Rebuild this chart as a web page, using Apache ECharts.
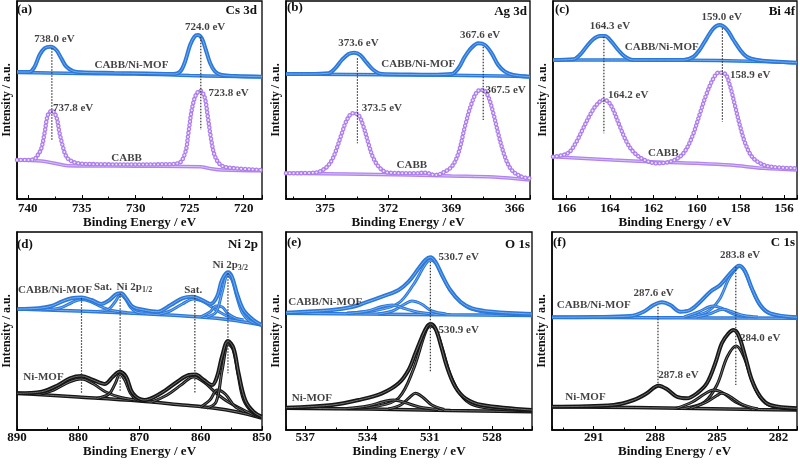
<!DOCTYPE html>
<html><head><meta charset="utf-8">
<script src="https://cdn.jsdelivr.net/npm/echarts@6/dist/echarts.min.js"></script>
<style>html,body{margin:0;padding:0;background:#fff}#c{width:800px;height:467px}</style>
</head><body><div id="c"></div>
<script>
// ---------- (a) Cs 3d ----------
const csHybrid = [[741,127],[739.85,127],[739.38,132],[738.91,144],[738.45,150.7],[737.89,152.3],[737.36,149],[736.9,140.7],[736.43,132.3],[735.81,128],[735.04,126.7],[732,126],[729,125.5],[726.5,125],[725.89,127.3],[725.43,137.3],[724.96,154],[724.56,162.3],[724.25,164],[723.88,160.7],[723.5,149],[723.1,135.7],[722.64,127.3],[722.02,124],[720.78,123],[718.3,122.3]];
const csHybridBg = [[741,126.5],[738,126],[735,125.5],[730,125],[725,123.5],[722,122.8],[718.3,122.3]];
const csCABB = [[741,39],[740,39],[739.5,39.5],[739.3,40.5],[739.07,44],[738.76,50],[738.45,65.7],[738.14,84],[737.77,88.3],[737.36,82.3],[737.05,65.7],[736.74,52],[736.5,44],[736.2,39.5],[735.35,35.7],[733,34.7],[730,34.5],[727.5,34.7],[726.05,35.7],[725.43,45.7],[725.12,65.7],[724.81,89],[724.43,104],[724.03,108.3],[723.63,102.3],[723.32,82.3],[723.0,59],[722.64,42.3],[722.02,33.3],[720.78,30.7],[718.3,29]];
const csCABBBg = [[741,39],[738.76,38],[737.5,35.7],[736.28,33.3],[730,32.8],[724,32.3],[723.25,30.7],[722,29],[718.3,28.3]];
const csGuides = [[[737.77,150.7],[737.77,59]],[[723.97,162.3],[723.97,69]]];
const csNotes = [[737.53,159.7,'738.0 eV'],[723.57,172.3,'724.0 eV'],[730.4,134,'CABB/Ni-MOF'],[735.8,90.7,'737.8 eV'],[721.4,105.7,'723.8 eV'],[730.85,40.7,'CABB']];

// ---------- (b) Ag 3d ----------
const agHybrid = [[376.86,125],[375.8,125],[374.84,125.7],[374.53,130.7],[374.21,139],[373.89,145],[373.61,146.3],[373.34,144],[373.03,136.3],[372.71,129],[372.31,125],[371,124.5],[370,124.3],[369.0,125],[368.68,130.7],[368.37,142.3],[368.05,151.3],[367.73,155.7],[367.42,154],[367.1,145.7],[366.79,134],[366.47,127.3],[366.07,124],[365.28,122.3]];
const agHybridBg = [[376.86,125],[372,124.3],[369,123.8],[366,122.8],[365.28,122.3]];
const agCABB = [[376.86,25.7],[375.5,26.3],[375.0,30.7],[374.68,39],[374.45,50.7],[374.21,65.7],[373.97,79],[373.7,85.7],[373.42,84],[373.18,72.3],[372.95,55.7],[372.71,40.7],[372.39,30.7],[372.0,26.3],[370.73,25.7],[370.26,26.3],[369.79,24],[369.47,25.7],[369.0,32.3],[368.68,45.7],[368.37,72.3],[368.05,95.7],[367.73,108.3],[367.5,109],[367.26,102.3],[367.02,85.7],[366.79,65.7],[366.47,42.3],[366.15,29],[365.68,22.3],[365.28,20.7]];
const agCABBBg = [[376.86,25.7],[374,25],[371,24],[369,23],[367,22],[365.28,19]];
const agGuides = [[[373.47,140.7],[373.47,55.7]],[[367.5,152.3],[367.5,79]]];
const agNotes = [[373.42,155.7,'373.6 eV'],[367.65,164,'367.6 eV'],[370.58,135,'CABB/Ni-MOF'],[372.31,90.7,'373.5 eV'],[366.44,109,'367.5 eV'],[370.89,34,'CABB']];

// ---------- (c) Bi 4f ----------
const biHybrid = [[166.62,139],[165.69,139.7],[165.39,144],[165.08,152.3],[164.77,159.7],[164.46,163],[164.23,163],[163.93,157.3],[163.62,149],[163.31,142.3],[162.93,139],[161.5,139],[160.62,139],[160.16,142.3],[159.86,149.7],[159.55,160.7],[159.24,170.7],[158.96,174],[158.63,169.7],[158.32,159],[158.01,149],[157.71,142.3],[157.24,139],[156.5,137.5],[155.4,136.3]];
const biHybridBg = [[166.62,139],[162,139],[159,138.5],[157,137.5],[155.4,136.3]];
const biCABB = [[166.62,42.3],[166.15,44],[165.85,47.3],[165.54,57.3],[165.23,70.7],[164.92,84],[164.62,94],[164.31,99],[164.08,97.3],[163.85,89],[163.54,72.3],[163.24,57.3],[162.93,47.3],[162.47,39.7],[161.85,35.7],[161.24,37.3],[160.78,42.3],[160.47,50.7],[160.16,65.7],[159.86,85.7],[159.55,105.7],[159.24,120.7],[159.01,126.3],[158.7,125],[158.47,112.3],[158.24,92.3],[158.01,72.3],[157.78,55.7],[157.47,42.3],[157.09,35.7],[156.63,32.3],[155.4,30.7]];
const biCABBBg = [[166.62,42.3],[163.85,39],[161.55,36.7],[160.0,35.7],[158.47,34],[156.94,30.7],[155.4,29]];
const biGuides = [[[164.28,162.3],[164.28,65.7]],[[158.83,170.7],[158.83,77.3]]];
const biNotes = [[164.0,173,'164.3 eV'],[158.86,182.3,'159.0 eV'],[161.62,152.3,'CABB/Ni-MOF'],[163.16,104,'164.2 eV'],[157.55,124,'158.9 eV'],[161.55,45.7,'CABB']];

// ---------- (d) Ni 2p ----------
const niHybrid = [[889.9,121],[886.49,121.7],[884.33,124],[882.71,128.3],[881.09,131.7],[879.47,132.5],[877.85,130],[876.23,126],[874.89,130],[873.81,135.7],[873.0,136.7],[872.19,131.7],[871.11,123.3],[869.22,120],[867.06,118.3],[864.9,125],[863.01,131.7],[861.39,133.3],[859.77,130],[858.42,126],[857.34,133.3],[856.53,150],[855.56,157.7],[854.91,153.3],[854.1,136.7],[853.02,120],[851.4,110],[850.05,105]];
const niHybridBg = [[889.9,121],[880,119],[870,116.5],[860,113],[855,110],[850.05,105]];
const niHybridParts = [
  [[886,120.2],[883,122],[881,127.5],[879.5,130.5],[878,128.5],[876.5,124],[874.5,119.5],[872,117.5]],
  [[877,118.5],[875,121],[874,128],[873.1,135],[872.3,131],[871.5,123],[870.5,118],[869,116.8]],
  [[867,115.5],[865,119],[863,126],[861.2,131],[859.5,128],[857.5,120],[855.5,113.5],[853,110]],
  [[860,113.2],[858.5,118],[857.5,124],[856.5,123],[855.5,116],[854,111]],
  [[859,113],[857.5,118],[856.5,138],[855.6,155],[854.9,150],[854.1,133],[853.2,117],[852,109],[850.05,105]]
];
const niMOF = [[890,36.7],[885.95,38.3],[883.25,45],[881.36,51.7],[879.47,54],[877.58,50],[875.7,46],[874.35,53.3],[873.27,58.3],[872.19,53.3],[871.11,36.7],[869.22,30],[866.52,36.7],[863.82,48.3],[861.93,55],[860.85,55.5],[859.5,50],[858.15,45],[857.34,53.3],[856.53,73.3],[855.56,89],[854.64,81.7],[853.83,56.7],[852.75,30],[851.4,18.3],[850.05,13.3]];
const niMOFBg = [[890,36.7],[880,33],[870,29],[863,25],[858,22],[854,18],[850.05,12]];
const niMOFParts = [
  [[886.5,35.5],[884,40],[881.5,48],[879.5,51],[877.5,46],[875.5,38],[873,32.5],[870,29.5]],
  [[877,31.5],[875,36],[874,46],[873.2,55.5],[872.4,50],[871.5,37],[870.5,30.5],[869,29]],
  [[868,28],[865.5,35],[863,46],[861.2,53],[859.5,48],[857.5,37],[855.5,28],[853,20],[851,14]],
  [[860,23],[858.5,30],[857.3,40],[856,36],[854.5,24],[853,18.5]],
  [[859,22],[857.5,28],[856.5,60],[855.5,86],[854.7,80],[853.9,55],[853,30],[851.5,17],[850.05,12.5]]
];
const niGuides = [[[879.47,131.7],[879.47,36.7]],[[873.16,136.7],[873.16,38.3]],[[860.96,135],[860.96,36.7]],[[855.56,156.7],[855.56,56.7]]];
const niNotes = [[883.8,140,'CABB/Ni-MOF'],[875.97,143.3,'Sat.'],[870.84,143.3,'Ni 2p{s|1/2}'],[861.23,140,'Sat.'],[855.18,165,'Ni 2p{s|3/2}'],[885.68,53.3,'Ni-MOF']];

// ---------- (e) O 1s ----------
const oHybrid = [[537.93,117.3],[535.71,120],[534.75,123],[534.11,127.3],[533.3,133.3],[532.5,140],[532.02,148.3],[531.53,161.7],[531.21,170],[530.97,172.7],[530.73,168.3],[530.41,155],[530.01,140],[529.52,128.3],[528.96,121.7],[527.99,118.3],[526.07,116]];
const oHybridBg = [[537.93,116.7],[534,116],[530,115.2],[526.07,114.5]];
const oHybridParts = [
  [[535,117],[533.5,120],[532.5,127],[531.8,145],[531.2,166],[530.97,170],[530.7,166.5],[530.4,154],[530.0,139],[529.5,127.5],[529,121],[528,117],[526.07,115]],
  [[533.5,116],[532.8,119],[532.2,126],[531.86,129],[531.4,126],[530.9,119],[530.2,116]],
  [[535,116.5],[534,119],[533.3,123.5],[532.8,125],[532.3,122],[531.6,118],[530.8,116]]
];
const oMOF = [[537.93,22.3],[535.71,25],[534.43,30],[533.3,36.7],[532.5,46.7],[532.02,60],[531.69,76.7],[531.37,93.3],[531.13,103.3],[530.97,106],[530.73,101.7],[530.49,86.7],[530.17,63.3],[529.77,43.3],[529.28,31.7],[528.48,25],[526.07,20]];
const oMOFBg = [[537.93,21.7],[534,21],[530,19.5],[526.07,18.3]];
const oMOFParts = [
  [[535,21.5],[533.5,24],[532.5,32],[531.8,60],[531.2,98],[530.97,104],[530.7,100],[530.4,82],[530.0,55],[529.5,35],[529,26],[528,21.5],[526.07,19]],
  [[533,21],[532.4,25],[531.95,33],[531.69,36.7],[531.35,33],[530.9,25],[530.3,20.5]],
  [[535,21.5],[534,24],[533.2,28.5],[532.74,30],[532.2,27.5],[531.5,23],[530.6,20.5]]
];
const oGuides = [[[530.97,168.3],[530.97,58.3]]];
const oNotes = [[529.6,172.7,'530.7 eV'],[536.04,128.3,'CABB/Ni-MOF'],[529.6,100,'530.9 eV'],[536.68,31.7,'Ni-MOF']];

// ---------- (f) C 1s ----------
const cHybrid = [[293.03,112.7],[291,113],[289.22,114],[288.57,118.3],[288.08,125],[287.68,127.7],[287.27,125],[286.78,118.3],[286.3,120],[285.81,128.3],[285.32,138.3],[284.84,145],[284.35,156.7],[284.03,163.3],[283.9,164.3],[283.62,158.3],[283.3,141.7],[282.89,125],[282.41,116.7],[281.1,112.7]];
const cHybridBg = [[293.03,112.7],[288,112.3],[285,112],[281.1,111.7]];
const cHybridParts = [
  [[286.5,113],[285.5,118],[284.9,130],[284.4,152],[284.03,162],[283.9,163.5],[283.62,157.5],[283.3,141],[282.9,124.5],[282.4,116.3],[281.1,112.5]],
  [[286.6,113],[285.9,118],[285.4,123],[285.16,124],[284.8,122],[284.2,116],[283.5,113]],
  [[286,113],[285.3,116.5],[284.9,120],[284.68,120.7],[284.3,118.5],[283.7,114.5],[283,113]]
];
const cMOF = [[293.03,23.3],[290.03,25],[289.05,30],[288.41,36.7],[287.84,44.3],[287.43,40.7],[286.95,33.3],[286.46,31.7],[285.97,36.7],[285.49,46.7],[285.08,66.7],[284.76,86.7],[284.43,96.7],[284.19,100],[283.95,95],[283.62,73.3],[283.3,50],[282.89,33.3],[282.41,25],[281.1,21.7]];
const cMOFBg = [[293.03,23.3],[289,22.5],[286,21.5],[283,20.5],[281.1,20]];
const cMOFParts = [
  [[286.5,22],[285.6,28],[285.0,45],[284.5,73],[284.06,84],[283.7,74],[283.3,50],[282.9,33],[282.4,24.5],[281.1,20.3]],
  [[287,21.5],[286.2,28],[285.6,36],[285.16,40],[284.7,37],[284.1,28],[283.3,21.5]],
  [[286.3,21.5],[285.5,28],[285.0,34.5],[284.76,36.7],[284.4,34],[283.8,26],[283.0,21]]
];
const cGuides = [[[287.87,123.3],[287.87,43.3]],[[284.08,163.3],[284.08,45]]];
const cNotes = [[283.87,175,'283.8 eV'],[288.08,136.7,'287.6 eV'],[291.0,125,'CABB/Ni-MOF'],[282.89,91.7,'284.0 eV'],[286.87,55,'287.8 eV'],[291.4,33.3,'Ni-MOF']];

// ---------- axes ----------
const panelTags = ['(a)','(b)','(c)','(d)','(e)','(f)'];
const panelElems = ['Cs 3d','Ag 3d','Bi 4f','Ni 2p','O 1s','C 1s'];
const xRanges = [[718.3,741],[365.28,376.86],[155.4,166.62],[850,890],[526.07,537.93],[281.1,293.03]];
const xSteps = [5,3,2,10,3,3];
const xTitle = 'Binding Energy / eV';
const yTitle = 'Intensity / a.u.';

// ---------- layout / style ----------
const FONT = '"Liberation Serif","Times New Roman",serif';
const grids = [
  {left:16,top:1,width:246,height:198},
  {left:286,top:1,width:244,height:198},
  {left:553,top:1,width:244,height:198},
  {left:15,top:232,width:247,height:198},
  {left:286,top:232,width:246,height:198},
  {left:552,top:232,width:245,height:198}
];
const tagPos = [{left:17,top:3},{left:287,top:1},{left:555,top:3},{left:17,top:238},{left:287,top:236},{left:553,top:236}];
const elemPos = [{right:543,top:4},{right:273,top:5},{right:5,top:5},{right:542,top:238},{right:270,top:238},{right:5,top:236}];

const BLUE='#2b78d8', BLUE_IN='#76acee', PURP='#ad7eec', PURP_IN='#f1e7fd', PURP_BAND='#b084ee', PURP_BAND_IN='#d9c2f8', BLK='#151515', BLK_IN='#707070';

const series = [];
function band(data,p,color,inner,w){
  series.push({type:'line',xAxisIndex:p,yAxisIndex:p,data:data,smooth:0.35,showSymbol:false,silent:true,lineStyle:{color:color,width:w}});
  series.push({type:'line',xAxisIndex:p,yAxisIndex:p,data:data,smooth:0.35,showSymbol:false,silent:true,lineStyle:{color:inner,width:1}});
}
function beads(data,p){
  const base = {type:'line',xAxisIndex:p,yAxisIndex:p,data:data,smooth:0.35,showSymbol:false,silent:true};
  series.push(Object.assign({},base,{lineStyle:{color:PURP,width:1.5}}));
  series.push(Object.assign({},base,{lineStyle:{color:PURP,width:4.6,type:[0.01,3.8],cap:'round'}}));
  series.push(Object.assign({},base,{lineStyle:{color:PURP_IN,width:2,type:[0.01,3.8],cap:'round'}}));
}
function guides(segs,p){
  segs.forEach(s=>series.push({type:'line',xAxisIndex:p,yAxisIndex:p,data:s,showSymbol:false,silent:true,z:4,
    lineStyle:{color:'#333',width:1.2,type:[1.5,1.5]}}));
}
function notes(arr,p){
  series.push({type:'scatter',xAxisIndex:p,yAxisIndex:p,symbolSize:0,silent:true,z:10,
    data:arr.map(n=>({value:[n[0],n[1]],label:{formatter:n[2]}})),
    label:{show:true,position:'inside',color:'#111',fontFamily:FONT,fontWeight:'bold',fontSize:11,
      rich:{s:{fontSize:8,fontFamily:FONT,fontWeight:'bold',color:'#111',padding:[6,0,0,0]}}}});
}

// (a)
band(csHybridBg,0,BLUE,BLUE_IN,3.5); band(csHybrid,0,BLUE,BLUE_IN,4);
band(csCABBBg,0,PURP_BAND,PURP_BAND_IN,3.5); beads(csCABB,0);
guides(csGuides,0); notes(csNotes,0);
// (b)
band(agHybridBg,1,BLUE,BLUE_IN,3.5); band(agHybrid,1,BLUE,BLUE_IN,4);
band(agCABBBg,1,PURP_BAND,PURP_BAND_IN,3.5); beads(agCABB,1);
guides(agGuides,1); notes(agNotes,1);
// (c)
band(biHybridBg,2,BLUE,BLUE_IN,3.5); band(biHybrid,2,BLUE,BLUE_IN,4);
band(biCABBBg,2,PURP_BAND,PURP_BAND_IN,3.5); beads(biCABB,2);
guides(biGuides,2); notes(biNotes,2);
// (d)
band(niHybridBg,3,BLUE,BLUE_IN,3.5); niHybridParts.forEach(d=>band(d,3,BLUE,BLUE_IN,3)); band(niHybrid,3,BLUE,BLUE_IN,4);
band(niMOFBg,3,BLK,BLK_IN,3.5); niMOFParts.forEach(d=>band(d,3,BLK,BLK_IN,3)); band(niMOF,3,BLK,BLK_IN,4);
guides(niGuides,3); notes(niNotes,3);
// (e)
band(oHybridBg,4,BLUE,BLUE_IN,3.5); oHybridParts.forEach(d=>band(d,4,BLUE,BLUE_IN,3)); band(oHybrid,4,BLUE,BLUE_IN,4);
band(oMOFBg,4,BLK,BLK_IN,3.5); oMOFParts.forEach(d=>band(d,4,BLK,BLK_IN,3)); band(oMOF,4,BLK,BLK_IN,4);
guides(oGuides,4); notes(oNotes,4);
// (f)
band(cHybridBg,5,BLUE,BLUE_IN,3.5); cHybridParts.forEach(d=>band(d,5,BLUE,BLUE_IN,3)); band(cHybrid,5,BLUE,BLUE_IN,4);
band(cMOFBg,5,BLK,BLK_IN,3.5); cMOFParts.forEach(d=>band(d,5,BLK,BLK_IN,3)); band(cMOF,5,BLK,BLK_IN,4);
guides(cGuides,5); notes(cNotes,5);

const bold = {fontFamily:FONT,fontWeight:'bold',color:'#111'};
const titles = [];
panelTags.forEach((t,i)=>titles.push(Object.assign({text:t,padding:0,textStyle:Object.assign({fontSize:13},bold)},tagPos[i])));
panelElems.forEach((t,i)=>titles.push(Object.assign({text:t,padding:0,textStyle:Object.assign({fontSize:13},bold)},elemPos[i])));

const option = {
  animation:false,
  backgroundColor:'#fff',
  title:titles,
  grid:grids.map(g=>Object.assign({show:true,borderColor:'#000',borderWidth:1.3,backgroundColor:'transparent'},g)),
  xAxis:xRanges.map((r,i)=>({
    type:'value',gridIndex:i,inverse:true,min:r[0],max:r[1],splitNumber:(i===2?5:4),
    name:xTitle,nameLocation:'middle',nameGap:(i<3?13:11),
    nameTextStyle:Object.assign({fontSize:13},bold),
    axisLine:{show:true,lineStyle:{color:'#000',width:1.5}},
    axisTick:{show:true,inside:true,length:4,lineStyle:{color:'#000',width:1}},
    minorTick:{show:true,splitNumber:2,length:2.5,lineStyle:{color:'#000'}},
    splitLine:{show:false},
    axisLabel:{margin:(i<3?3:1),showMinLabel:true,showMaxLabel:true,fontSize:13,fontFamily:FONT,fontWeight:'bold',color:'#111',
      formatter:function(v){const s=xSteps[i];return Math.abs(v/s-Math.round(v/s))<1e-6?String(Math.round(v)):'';}}
  })),
  yAxis:grids.map((g,i)=>({
    type:'value',gridIndex:i,min:0,max:198,
    name:yTitle,nameLocation:'middle',nameGap:4,nameRotate:90,
    nameTextStyle:Object.assign({fontSize:12},bold),
    axisLine:{show:true,lineStyle:{color:'#000',width:1.5}},
    axisTick:{show:false},axisLabel:{show:false},splitLine:{show:false}
  })),
  series:series
};
const chart = echarts.init(document.getElementById('c'),null,{renderer:'canvas'});
chart.setOption(option);
</script></body></html>
